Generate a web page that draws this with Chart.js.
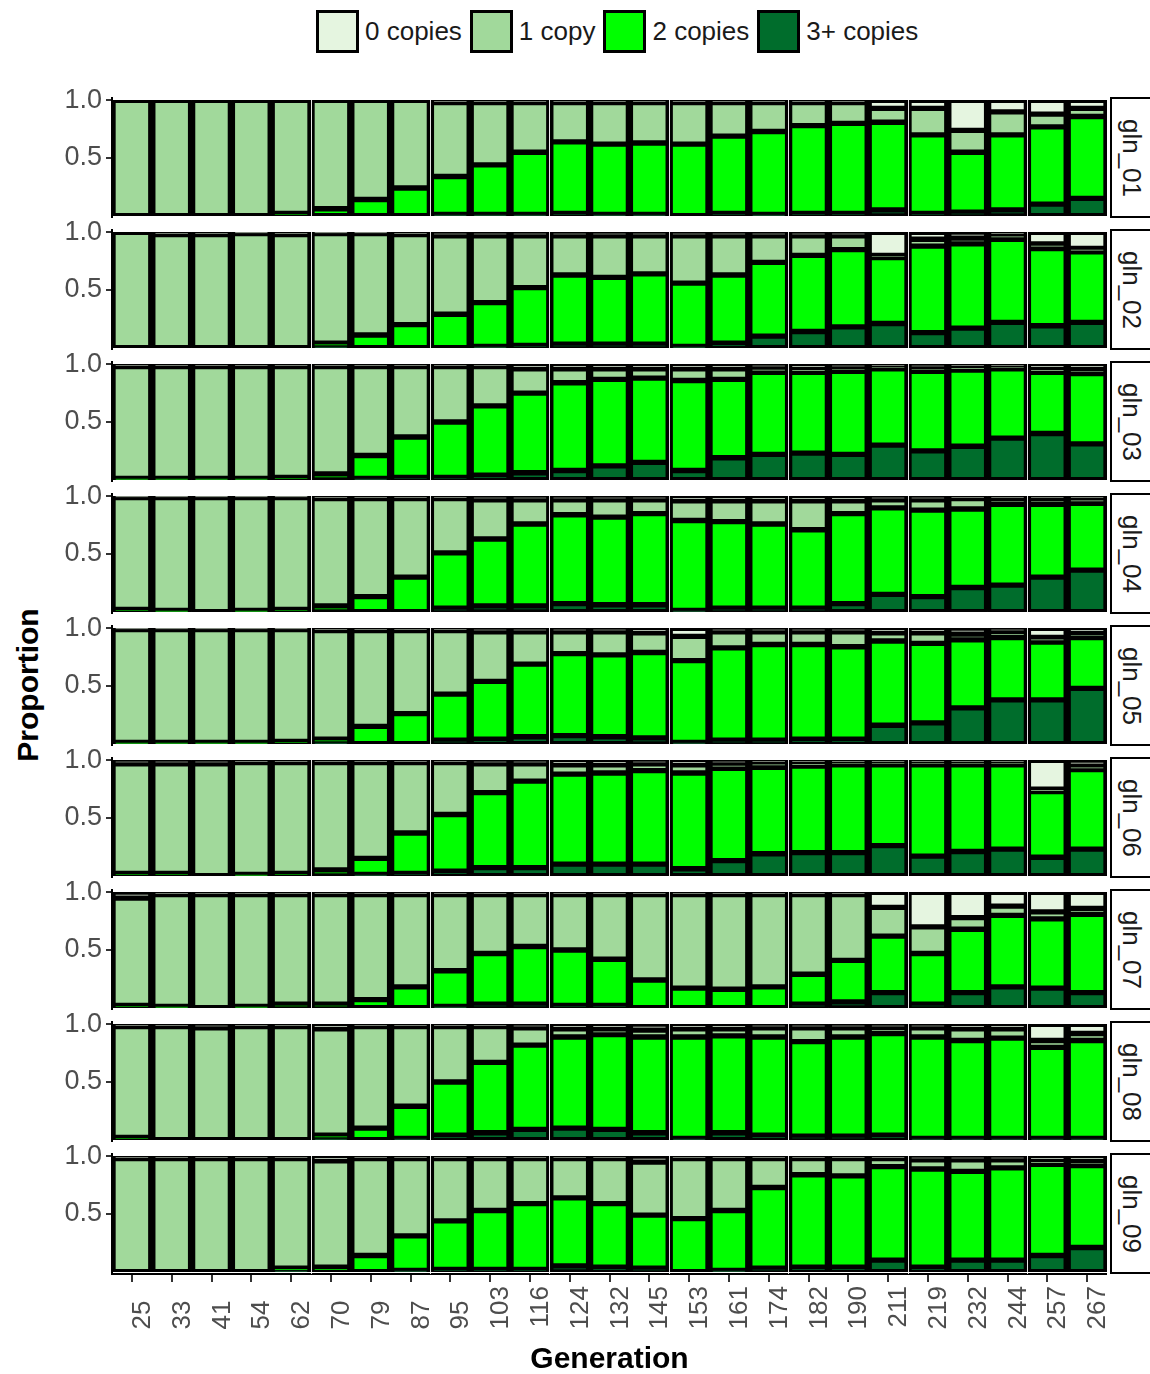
<!DOCTYPE html>
<html>
<head>
<meta charset="utf-8">
<script src="https://cdn.jsdelivr.net/npm/chart.js@4.4.1/dist/chart.umd.min.js"></script>
<style>
  body { margin: 0; background: #fff; width: 1150px; height: 1374px; position: relative; overflow: hidden;
         font-family: "Liberation Sans", Arial, sans-serif; }
  .legend { position: absolute; top: 10px; left: 316px; display: flex; align-items: center; }
  .legend .box { width: 37px; height: 37px; border: 3px solid #000; margin-right: 6px; }
  .legend .lab { font-size: 26px; color: #1a1a1a; margin-right: 8px; }
  .panel { position: absolute; left: 0; line-height: 0; }
  .strip { position: absolute; left: 1110px; width: 44px; border: 2px solid #000; background: #fff; box-sizing: border-box; }
  .strip span { position: absolute; left: 50%; top: 50%; transform: translate(-50%, -50%) rotate(90deg);
                white-space: nowrap; font-size: 26px; color: #1a1a1a; line-height: 1; }
  .ytitle { position: absolute; left: 28px; top: 685px; transform: translate(-50%, -50%) rotate(-90deg);
            font-size: 30px; font-weight: bold; white-space: nowrap; }
</style>
</head>
<body>
<div class="legend" id="legend"></div>
<div class="ytitle">Proportion</div>
<script>
// generations on the x axis and the gene panels
const generations = ['25','33','41','54','62','70','79','87','95','103','116','124','132','145','153','161','174','182','190','211','219','232','244','257','267'];
const genes = ['gln_01','gln_02','gln_03','gln_04','gln_05','gln_06','gln_07','gln_08','gln_09'];

// proportions per gene (rows) and generation (columns)
const threePlus = [
  [0,0,0,0,0,0,0,0,.01,.01,.01,.02,.01,.01,0,.02,.01,.02,.02,.05,.02,.03,.05,.10,.15],
  [0,0,0,0,0,.01,0,0,0,.01,.02,.03,.03,.03,.01,.04,.10,.14,.18,.21,.13,.17,.22,.19,.22],
  [0,0,0,0,0,0,.01,.02,.02,.04,.06,.08,.12,.15,.08,.19,.22,.23,.22,.30,.25,.29,.36,.40,.31],
  [0,0,0,0,0,0,0,0,.03,.05,.05,.07,.06,.06,.01,.03,.03,.03,.07,.15,.13,.21,.23,.30,.36],
  [0,0,0,0,0,.01,0,0,.03,.04,.06,.07,.06,.05,.01,.03,.03,.04,.04,.16,.18,.31,.38,.38,.48],
  [0,0,0,0,0,0,.01,.02,.04,.07,.07,.10,.10,.10,.06,.13,.19,.20,.20,.26,.17,.21,.23,.16,.23],
  [0,0,0,0,0,0,0,0,.01,.03,.03,.02,.02,0,0,0,0,.03,.05,.13,.03,.13,.18,.17,.13],
  [0,0,0,0,0,.01,0,.01,.04,.06,.09,.10,.09,.06,.01,.06,.04,.03,.03,.04,.01,.01,.01,.01,.01],
  [0,0,0,0,.01,0,0,.01,.02,.02,.02,.05,.04,.03,0,.01,.03,.04,.04,.10,.04,.10,.10,.14,.21]
];
const twoCopies = [
  [0,0,0,0,.02,.06,.14,.24,.33,.43,.54,.62,.61,.62,.62,.67,.72,.76,.78,.76,.68,.52,.65,.67,.71],
  [0,0,0,0,0,.03,.11,.20,.29,.38,.50,.60,.58,.61,.55,.59,.64,.66,.67,.57,.75,.73,.72,.67,.61],
  [.01,.01,.01,.01,.02,.05,.20,.35,.48,.60,.69,.76,.75,.73,.78,.68,.71,.70,.72,.66,.69,.66,.60,.53,.61],
  [.02,.01,0,.01,.02,.05,.13,.30,.48,.58,.71,.77,.76,.79,.78,.75,.73,.68,.78,.75,.75,.68,.70,.63,.58],
  [.01,.01,.01,.01,.02,.03,.15,.26,.40,.50,.63,.71,.71,.74,.71,.80,.83,.82,.80,.73,.69,.59,.54,.50,.44],
  [.02,.02,0,.01,.02,.05,.14,.35,.49,.65,.75,.78,.79,.81,.83,.80,.75,.75,.76,.70,.79,.75,.73,.57,.69],
  [.02,.01,0,.01,.03,.03,.07,.18,.31,.44,.50,.48,.40,.24,.17,.16,.18,.26,.36,.49,.44,.55,.62,.60,.68],
  [.02,0,0,0,0,.03,.10,.28,.46,.61,.73,.79,.82,.83,.88,.84,.85,.82,.86,.88,.88,.85,.87,.79,.85],
  [0,0,0,0,.02,.04,.14,.30,.42,.51,.57,.59,.55,.46,.46,.52,.70,.80,.79,.81,.85,.77,.80,.79,.71]
];
const oneCopy = [
  [1,1,1,1,.98,.94,.86,.76,.64,.54,.43,.34,.36,.35,.36,.29,.25,.20,.18,.12,.23,.19,.20,.11,.07],
  [1,.98,.98,.99,.98,.95,.88,.78,.68,.58,.45,.34,.36,.33,.41,.34,.23,.17,.12,.02,.06,.05,.04,.04,.03],
  [.97,.97,.97,.97,.96,.93,.77,.61,.48,.34,.21,.12,.09,.08,.10,.09,.04,.03,.03,.02,.03,.03,.02,.03,.04],
  [.97,.98,.99,.98,.97,.93,.85,.68,.47,.34,.21,.13,.15,.12,.17,.18,.20,.25,.11,.07,.09,.09,.05,.05,.04],
  [.98,.98,.98,.98,.97,.94,.83,.72,.55,.43,.28,.19,.20,.17,.21,.14,.11,.11,.13,.07,.09,.05,.05,.04,.04],
  [.95,.95,.97,.97,.96,.93,.83,.61,.45,.25,.15,.08,.07,.06,.07,.04,.04,.03,.02,.02,.02,.02,.02,.02,.03],
  [.93,.97,.98,.97,.95,.95,.91,.80,.66,.51,.45,.48,.56,.74,.81,.82,.80,.69,.57,.25,.23,.10,.08,.06,.05],
  [.96,.98,.97,.98,.98,.92,.88,.69,.48,.31,.15,.07,.05,.06,.07,.06,.08,.12,.08,.05,.08,.10,.08,.06,.06],
  [.98,.98,.98,.98,.95,.92,.84,.67,.54,.45,.39,.34,.39,.46,.52,.45,.25,.14,.15,.07,.08,.10,.07,.03,.04]
];
const zeroCopies = [
  [0,0,0,0,0,0,0,0,.02,.02,.02,.02,.02,.02,.02,.02,.02,.02,.02,.07,.07,.26,.10,.12,.07],
  [0,.02,.02,.01,.02,.01,.01,.02,.03,.03,.03,.03,.03,.03,.03,.03,.03,.03,.03,.20,.06,.05,.02,.10,.14],
  [.02,.02,.02,.02,.02,.02,.02,.02,.02,.02,.04,.04,.04,.04,.04,.04,.03,.04,.03,.02,.03,.02,.02,.04,.04],
  [.01,.01,.01,.01,.01,.02,.02,.02,.02,.03,.03,.03,.03,.03,.04,.04,.04,.04,.04,.03,.03,.02,.02,.02,.02],
  [.01,.01,.01,.01,.01,.02,.02,.02,.02,.03,.03,.03,.03,.04,.07,.03,.03,.03,.03,.04,.04,.05,.03,.08,.04],
  [.03,.03,.03,.02,.02,.02,.02,.02,.02,.03,.03,.04,.04,.03,.04,.03,.02,.02,.02,.02,.02,.02,.02,.25,.05],
  [.05,.02,.02,.02,.02,.02,.02,.02,.02,.02,.02,.02,.02,.02,.02,.02,.02,.02,.02,.13,.30,.22,.12,.17,.14],
  [.02,.02,.03,.02,.02,.04,.02,.02,.02,.02,.03,.04,.04,.05,.04,.04,.03,.03,.03,.03,.03,.04,.04,.14,.08],
  [.02,.02,.02,.02,.02,.04,.02,.02,.02,.02,.02,.02,.02,.05,.02,.02,.02,.02,.02,.02,.03,.03,.03,.04,.04]
];

const categoryNames = ['0 copies', '1 copy', '2 copies', '3+ copies'];
const categoryColors = ['#e5f5e0', '#a1d99b', '#00ff00', '#006d2c'];
const yTicks = [0.5, 1.0];
const whiteDividers = [5, 8, 11, 14, 17, 20, 23];

// layout
const firstPanelTop = 98;
const panelStep = 132;
const plotHeight = 120;
const padTop = 12;
const xAxisHeight = 104;
const fontFamily = '"Liberation Sans", Arial, sans-serif';
const tickGrey = '#4d4d4d';

// legend
const legendEl = document.getElementById('legend');
categoryNames.forEach((name, i) => {
    const box = document.createElement('div');
    box.className = 'box';
    box.style.background = categoryColors[i];
    const lab = document.createElement('div');
    lab.className = 'lab';
    lab.textContent = name;
    legendEl.appendChild(box);
    legendEl.appendChild(lab);
});

// black backing behind the bars so the outlines read as one solid frame
const blackBacking = {
    id: 'blackBacking',
    beforeDatasetsDraw(chart) {
        const { ctx, chartArea, scales } = chart;
        const y0 = scales.y.getPixelForValue(0);
        const y1 = scales.y.getPixelForValue(1);
        ctx.save();
        ctx.fillStyle = '#000';
        ctx.fillRect(chartArea.left, y1, chartArea.right - chartArea.left, y0 - y1);
        ctx.restore();
    }
};

function makePanel(k) {
    const isLast = k === genes.length - 1;
    const panelTop = firstPanelTop + k * panelStep;
    const xHeight = isLast ? xAxisHeight : 0;
    const h = padTop + plotHeight + xHeight;

    const wrap = document.createElement('div');
    wrap.className = 'panel';
    wrap.style.top = (panelTop - padTop) + 'px';
    const canvas = document.createElement('canvas');
    canvas.width = 1107;
    canvas.height = h;
    canvas.style.width = '1107px';
    canvas.style.height = h + 'px';
    wrap.appendChild(canvas);
    document.body.appendChild(wrap);

    const strip = document.createElement('div');
    strip.className = 'strip';
    strip.style.top = (panelTop - 1) + 'px';
    strip.style.height = (plotHeight + 1) + 'px';
    strip.innerHTML = '<span>' + genes[k] + '</span>';
    document.body.appendChild(strip);

    const series = [threePlus[k], twoCopies[k], oneCopy[k], zeroCopies[k]];
    const names = ['3+ copies', '2 copies', '1 copy', '0 copies'];
    const colors = [categoryColors[3], categoryColors[2], categoryColors[1], categoryColors[0]];

    new Chart(canvas.getContext('2d'), {
        type: 'bar',
        data: {
            labels: generations,
            datasets: series.map((d, i) => ({
                label: names[i],
                data: d,
                backgroundColor: colors[i],
                borderColor: '#000',
                borderWidth: { left: 4, right: 4, top: 3, bottom: 3 },
                borderSkipped: false,
                categoryPercentage: 1,
                barPercentage: 1
            }))
        },
        options: {
            responsive: false,
            animation: false,
            devicePixelRatio: 1,
            layout: { padding: { top: padTop, bottom: 0, left: 0, right: 0 } },
            plugins: { legend: { display: false }, tooltip: { enabled: false } },
            scales: {
                x: {
                    stacked: true,
                    grid: {
                        offset: false,
                        drawOnChartArea: false,
                        drawTicks: isLast,
                        tickLength: 8,
                        tickColor: '#333',
                        lineWidth: 2
                    },
                    border: { display: isLast, color: '#000', width: 2 },
                    ticks: {
                        display: isLast,
                        autoSkip: false,
                        minRotation: 90,
                        maxRotation: 90,
                        padding: 4,
                        labelOffset: 11,
                        color: tickGrey,
                        font: { family: fontFamily, size: 26 },
                        // pad short labels at the axis end so they line up at the bottom
                        callback: (v, i) => generations[i] + '\u2007'.repeat(3 - generations[i].length)
                    },
                    title: {
                        display: isLast,
                        text: 'Generation',
                        color: '#000',
                        font: { family: fontFamily, size: 30, weight: 'bold' },
                        padding: { top: 4, bottom: 0 }
                    },
                    afterFit: s => { s.height = xHeight; s.paddingLeft = 0; s.paddingRight = 0; }
                },
                // thin white dividers between some bars, as in the source figure
                xDiv: {
                    type: 'category',
                    position: 'bottom',
                    grid: {
                        offset: true,
                        z: 1,
                        drawTicks: false,
                        color: ctx => whiteDividers.includes(ctx.index) ? 'rgba(255,255,255,0.9)' : 'rgba(0,0,0,0)',
                        lineWidth: 1
                    },
                    border: { display: false },
                    ticks: { display: false },
                    afterFit: s => { s.height = 0; s.paddingLeft = 0; s.paddingRight = 0; }
                },
                y: {
                    stacked: true,
                    min: -0.02,
                    max: 1.02,
                    afterBuildTicks: s => { s.ticks = yTicks.map(v => ({ value: v })); },
                    ticks: {
                        callback: v => Number(v).toFixed(1),
                        padding: 4,
                        color: tickGrey,
                        font: { family: fontFamily, size: 27 }
                    },
                    grid: { drawOnChartArea: false, drawTicks: true, tickLength: 6, tickColor: '#333', lineWidth: 2 },
                    border: { display: true, color: '#000', width: 2 },
                    afterFit: s => { s.width = 112; s.paddingTop = 0; s.paddingBottom = 0; }
                }
            }
        },
        plugins: [blackBacking]
    });
}

genes.forEach((g, k) => makePanel(k));
</script>
</body>
</html>
